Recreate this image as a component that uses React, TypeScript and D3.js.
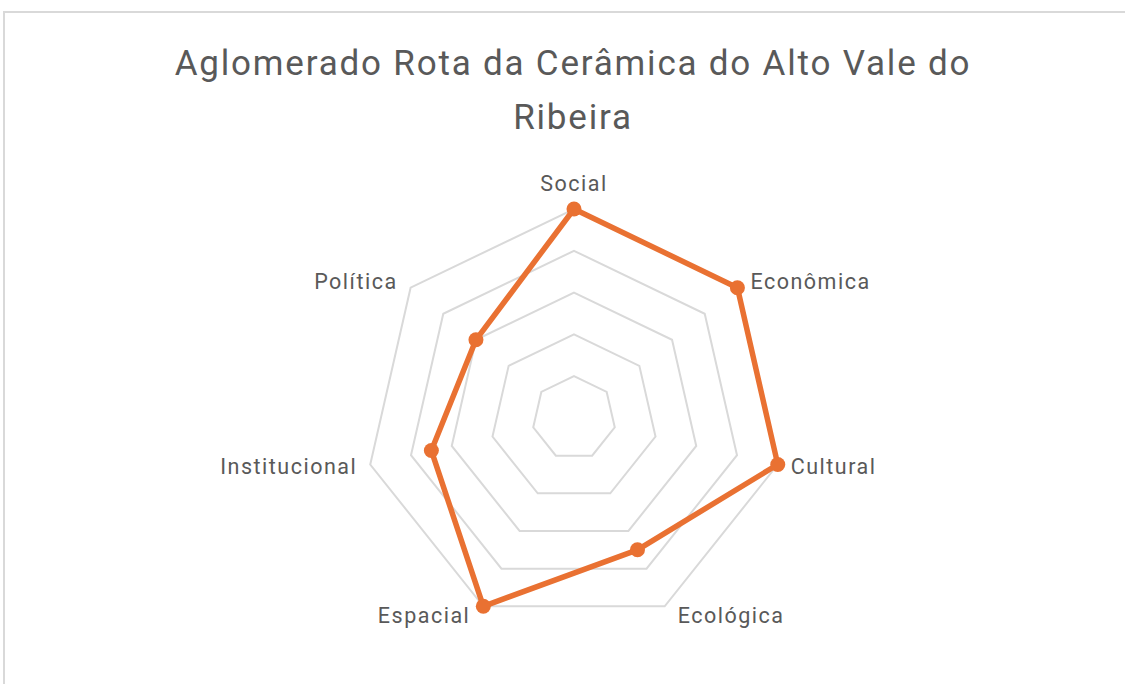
import React from "react";
import * as d3 from "d3";

const categories = ["Social", "Econômica", "Cultural", "Ecológica", "Espacial", "Institucional", "Política"];
const values = [5, 5, 5, 3.5, 5, 3.5, 3];
const gridLevels = [1, 2, 3, 4, 5];
const titleLines = ["Aglomerado Rota da Cerâmica do Alto Vale do", "Ribeira"];

const W = 1125, H = 684;
const cx = 574, cy = 418, R = 209;
const FONT = "Roboto, 'Open Sans', sans-serif";

export default function App() {
  const n = categories.length;
  const angle = (i: number) => (i * 2 * Math.PI) / n;
  const r = d3.scaleLinear().domain([0, 5]).range([0, R]);
  const pt = (i: number, v: number): [number, number] => [
    cx + r(v) * Math.sin(angle(i)),
    cy - r(v) * Math.cos(angle(i)),
  ];
  const line = d3.line<[number, number]>().curve(d3.curveLinearClosed);
  const dataPts = values.map((v, i) => pt(i, v));

  return (
    <svg width={W} height={H} style={{ position: "absolute", left: 0, top: 0, background: "#fff" }}>
      <rect x={4} y={12} width={W + 10} height={H + 10} fill="#fff" stroke="#d9d9d9" strokeWidth={2} />
      {titleLines.map((t, i) => (
        <text key={i} x={573} y={75 + i * 54} textAnchor="middle" fontFamily={FONT} fontSize={35} letterSpacing={1.8} fill="#595959">
          {t}
        </text>
      ))}
      {gridLevels.map((g) => (
        <path
          key={g}
          d={line(categories.map((_, i) => pt(i, g))) || ""}
          fill="none"
          stroke="#d9d9d9"
          strokeWidth={2}
        />
      ))}
      <path d={line(dataPts) || ""} fill="none" stroke="#E97132" strokeWidth={5.5} strokeLinejoin="round" />
      {dataPts.map((p, i) => (
        <circle key={i} cx={p[0]} cy={p[1]} r={7.5} fill="#E97132" />
      ))}
      {categories.map((c, i) => {
        const [vx, vy] = pt(i, 5);
        const s = Math.sin(angle(i));
        const co = Math.cos(angle(i));
        let x = vx, y = vy, anchor = "middle";
        if (Math.abs(s) < 0.1) {
          y = vy - 26;
        } else {
          anchor = s > 0 ? "start" : "end";
          x = vx + (s > 0 ? 13 : -13);
          y = vy - co * 10;
        }
        return (
          <text key={c} x={x} y={y} textAnchor={anchor} dominantBaseline="central" fontFamily={FONT} fontSize={21.5} letterSpacing={1.5} fill="#595959">
            {c}
          </text>
        );
      })}
    </svg>
  );
}
